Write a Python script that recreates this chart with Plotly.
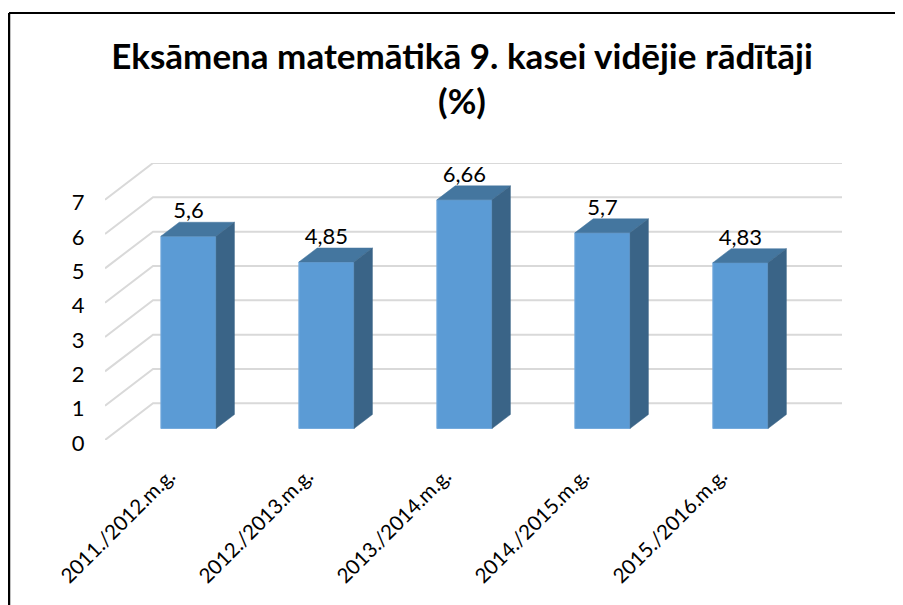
import plotly.graph_objects as go

categories = ["2011./2012.m.g.", "2012./2013.m.g.", "2013./2014.m.g.", "2014./2015.m.g.", "2015./2016.m.g."]
values = [5.6, 4.85, 6.66, 5.7, 4.83]
y_ticks = [0, 1, 2, 3, 4, 5, 6, 7]
title_text = "Eksāmena matemātikā 9. kasei vidējie rādītāji<br>(%)"

# pseudo-3D geometry, in axis units
BAR_W = 0.40
BAR_BASE = 0.335
DEPTH_X = 0.133
DEPTH_Y = 0.408
WALL_X = 0.348
WALL_Y = 1.069
X_MIN, X_MAX = -0.605, 4.736
Y_MAX = 7 + WALL_Y

FRONT = "#5B9BD5"
TOP = "#44769F"
SIDE = "#3A6487"
GRID = "#D9D9D9"
FONT = "Lato, Carlito, 'Open Sans', sans-serif"

xs = list(range(len(categories)))
fig = go.Figure()

fig.add_trace(go.Bar(
    x=xs, y=values, base=BAR_BASE, width=BAR_W,
    marker=dict(color=FRONT, line=dict(color="#76ABDD", width=1)),
    hoverinfo="skip", showlegend=False,
))

for x, v in zip(xs, values):
    l, r = x - BAR_W / 2, x + BAR_W / 2
    t = v + BAR_BASE
    fig.add_trace(go.Scatter(
        x=[l, r, r + DEPTH_X, l + DEPTH_X, l], y=[t, t, t + DEPTH_Y, t + DEPTH_Y, t],
        mode="lines", fill="toself", fillcolor=TOP, line=dict(color=TOP, width=0.5),
        hoverinfo="skip", showlegend=False,
    ))
    fig.add_trace(go.Scatter(
        x=[r, r + DEPTH_X, r + DEPTH_X, r, r],
        y=[BAR_BASE, BAR_BASE + DEPTH_Y, t + DEPTH_Y, t, BAR_BASE],
        mode="lines", fill="toself", fillcolor=SIDE, line=dict(color=SIDE, width=0.5),
        hoverinfo="skip", showlegend=False,
    ))

fig.add_trace(go.Scatter(
    x=xs, y=[v + BAR_BASE + DEPTH_Y - 0.05 for v in values],
    text=[str(v).replace(".", ",") for v in values],
    mode="text", textposition="top center",
    textfont=dict(family=FONT, size=22, color="#000000"),
    hoverinfo="skip", showlegend=False, cliponaxis=False,
))

shapes = []
for v in y_ticks:
    shapes.append(dict(
        type="path", xref="x", yref="y", layer="below",
        path=f"M {X_MIN} {v} L {X_MIN + WALL_X} {v + WALL_Y} L {X_MAX} {v + WALL_Y}",
        line=dict(color=GRID, width=2),
    ))
# outer frame (top and left edges)
shapes.append(dict(type="line", xref="paper", yref="paper", x0=-0.13026, x1=1.083, y0=1.5415, y1=1.5415,
                   line=dict(color="black", width=2)))
shapes.append(dict(type="line", xref="paper", yref="paper", x0=-0.13026, x1=-0.13026, y0=1.5415, y1=-0.6,
                   line=dict(color="black", width=2.5)))

fig.update_layout(
    width=895, height=597,
    margin=dict(l=97, r=61, t=155, b=165, autoexpand=False),
    paper_bgcolor="white", plot_bgcolor="rgba(0,0,0,0)",
    showlegend=False, shapes=shapes,
    title=dict(text=title_text, x=454 / 895, xanchor="center", y=0.898, yanchor="top",
               font=dict(family=FONT, size=35, color="black", weight="bold")),
    font=dict(family=FONT, color="black"),
    xaxis=dict(range=[X_MIN, X_MAX], tickmode="array", tickvals=[x - 0.14 for x in xs], ticktext=categories,
               tickangle=-45, showgrid=False, zeroline=False, showline=False,
               ticks="outside", ticklen=15, tickcolor="rgba(0,0,0,0)", tickfont=dict(size=20.5)),
    yaxis=dict(range=[0, Y_MAX], tickmode="array", tickvals=y_ticks, showgrid=False, zeroline=False,
               showline=False, ticks="outside", ticklen=15, tickcolor="rgba(0,0,0,0)",
               ticklabelshift=3, tickfont=dict(size=22)),
)

fig.write_html("out.html")
